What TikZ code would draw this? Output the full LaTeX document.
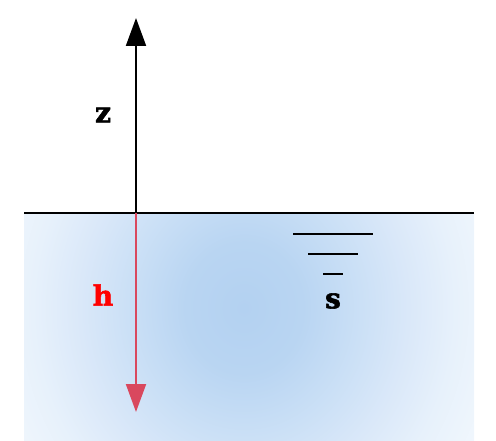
\documentclass[tikz,border=0pt]{standalone}
\usepackage{fontspec}
\setmainfont{DejaVu Serif}[BoldFeatures={FakeBold=2}]
\usetikzlibrary{arrows.meta}
\definecolor{hred}{HTML}{D9485E}
\pgfdeclareradialshading{water}{\pgfpoint{0bp}{0bp}}{%
  color(0bp)=(rgb,255:red,179;green,209;blue,241);
  color(65bp)=(rgb,255:red,185;green,213;blue,242);
  color(130bp)=(rgb,255:red,203;green,224;blue,246);
  color(182bp)=(rgb,255:red,218;green,232;blue,249);
  color(234bp)=(rgb,255:red,231;green,241;blue,251);
  color(292bp)=(rgb,255:red,241;green,247;blue,253);
  color(377bp)=(rgb,255:red,245;green,249;blue,254)}
\tikzset{
  lbl/.style={font=\fontsize{28}{30}\selectfont\bfseries, inner sep=0pt},
  axis/.style={line width=2pt, -{Triangle[width=20pt,length=28pt]}},
  level/.style={line width=2pt}
}
\begin{document}
\begin{tikzpicture}[x=1pt,y=-1pt]
\useasboundingbox (0,0) rectangle (496,441);
\begin{scope}
  \clip (24,213.5) rectangle (474,441);
  \begin{scope}[shift={(244,308)}, xscale=0.9]
    \node[inner sep=0pt, outer sep=0pt, transform shape] (glow) at (0,0) {\pgfuseshading{water}};
  \end{scope}
\end{scope}
\coordinate (sl) at (24,213.5);
\coordinate (sr) at (474,213.5);
\draw[line width=2pt] (sl) -- (sr);
\coordinate (o) at (136,213.5);
\coordinate (ztip) at (136,18);
\coordinate (htip) at (136,412);
\draw[axis] (o) -- (ztip);
\draw[axis, hred] (o) -- (htip);
\node[lbl] (z) at (103,115) {z};
\node[lbl, text=red] (h) at (103,295) {h};
\node[lbl] (s) at (333,301) {s};
\coordinate (a1) at (293,234); \coordinate (a2) at (373,234);
\coordinate (b1) at (308,254); \coordinate (b2) at (358,254);
\coordinate (c1) at (323,274); \coordinate (c2) at (343,274);
\draw[level] (a1) -- (a2);
\draw[level] (b1) -- (b2);
\draw[level] (c1) -- (c2);
\end{tikzpicture}
\end{document}
